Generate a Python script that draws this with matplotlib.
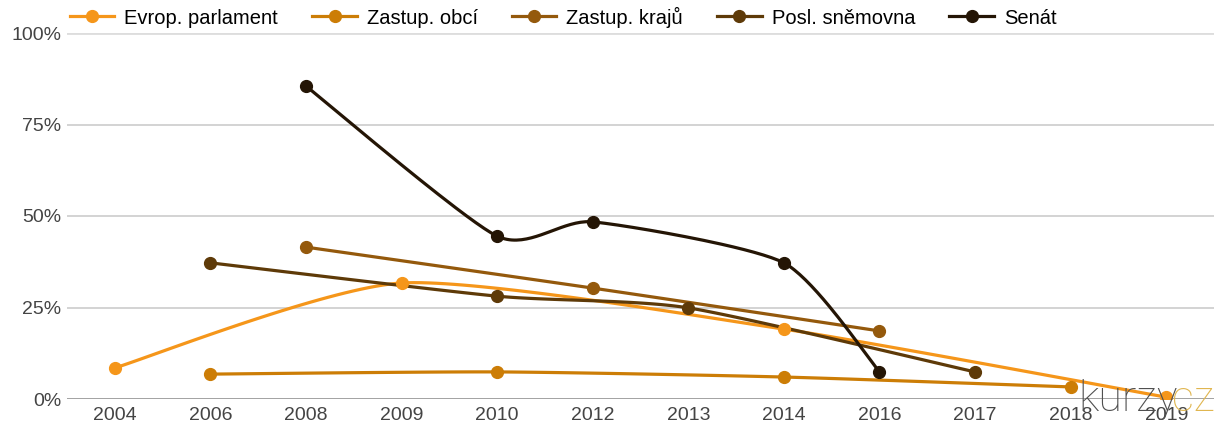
import numpy as np
import matplotlib.pyplot as plt

years = ['2004', '2006', '2008', '2009', '2010', '2012', '2013',
         '2014', '2016', '2017', '2018', '2019']

# participation in % (None = no election that year)
evrop = [8.5, None, None, 31.7, None, None, None, 19.1, None, None, None, 0.5]
obci = [None, 6.8, None, None, 7.4, None, None, 6.0, None, None, 3.3, None]
kraju = [None, None, 41.5, None, None, 30.3, None, None, 18.6, None, None, None]
posl = [None, 37.2, None, None, 28.1, None, 24.9, None, None, 7.4, None, None]
senat = [None, None, 85.5, None, 44.5, 48.4, None, 37.2, 7.4, None, None, None]

names = ['Evrop. parlament', 'Zastup. obcí', 'Zastup. krajů',
         'Posl. sněmovna', 'Senát']
series = [evrop, obci, kraju, posl, senat]
colors = ['#F5961A', '#CC7D06', '#94590C', '#5E3A08', '#241505']

y_ticks = [0, 25, 50, 75, 100]


def smooth(xs, ys, k=0.11, n=40):
    # cardinal spline through the points, like google "function" curves
    pts = np.column_stack([xs, ys]).astype(float)
    out = [pts[:1]]
    for i in range(len(pts) - 1):
        p0 = pts[max(i - 1, 0)]
        p1 = pts[i]
        p2 = pts[i + 1]
        p3 = pts[min(i + 2, len(pts) - 1)]
        c1 = p1 + k * (p2 - p0)
        c2 = p2 - k * (p3 - p1)
        t = np.linspace(0, 1, n)[1:, None]
        seg = ((1 - t) ** 3 * p1 + 3 * (1 - t) ** 2 * t * c1
               + 3 * (1 - t) * t ** 2 * c2 + t ** 3 * p2)
        out.append(seg)
    return np.vstack(out)


fig = plt.figure(figsize=(12.15, 4.25), dpi=100)
ax = fig.add_axes([67 / 1215, 26 / 425, 1147 / 1215, 366 / 425])

for name, vals, col in zip(names, series, colors):
    xs = [i for i, v in enumerate(vals) if v is not None]
    ys = [v for v in vals if v is not None]
    curve = smooth(xs, ys)
    ax.plot(curve[:, 0], curve[:, 1], color=col, lw=2.3, zorder=3,
            solid_capstyle='round')
    ax.plot(xs, ys, 'o', color=col, ms=8.5, zorder=4)
    ax.plot([], [], '-o', color=col, lw=2.3, ms=8.5, label=name)

ax.set_xlim(-0.5, len(years) - 0.5)
ax.set_ylim(0, 100)
ax.set_xticks(range(len(years)))
ax.set_xticklabels(years)
ax.set_yticks(y_ticks)
ax.set_yticklabels([str(t) + '%' for t in y_ticks])
for t in y_ticks[1:]:
    ax.axhline(t, color='#cccccc', lw=1.2, zorder=1)
ax.axhline(100, color='#dddddd', lw=2, zorder=1)
ax.axhline(0, color='#999999', lw=2, zorder=2)

for s in ax.spines.values():
    s.set_visible(False)
ax.tick_params(length=0, labelsize=14, labelcolor='#444444')
ax.tick_params(axis='x', pad=6)
ax.tick_params(axis='y', pad=4)
for lab in ax.get_xticklabels() + ax.get_yticklabels():
    lab.set_family('Liberation Sans')

fig.legend(loc='center left', bbox_to_anchor=(62 / 1215, 1 - 17 / 425),
           ncol=5, frameon=False, handlelength=2.2, handletextpad=0.5,
           columnspacing=1.7, borderaxespad=0,
           prop={'family': 'Liberation Sans', 'size': 14.5})

# watermark
fig.text(1078 / 1215, 1 - 411 / 425, 'kurzy', fontsize=31, color='#505050',
         family='Roboto', fontweight='light', zorder=5)
fig.text(1172 / 1215, 1 - 411 / 425, 'cz', fontsize=31, color='#E0B650',
         family='Roboto', fontweight='light', zorder=5)

plt.savefig('out.png', dpi=100)
